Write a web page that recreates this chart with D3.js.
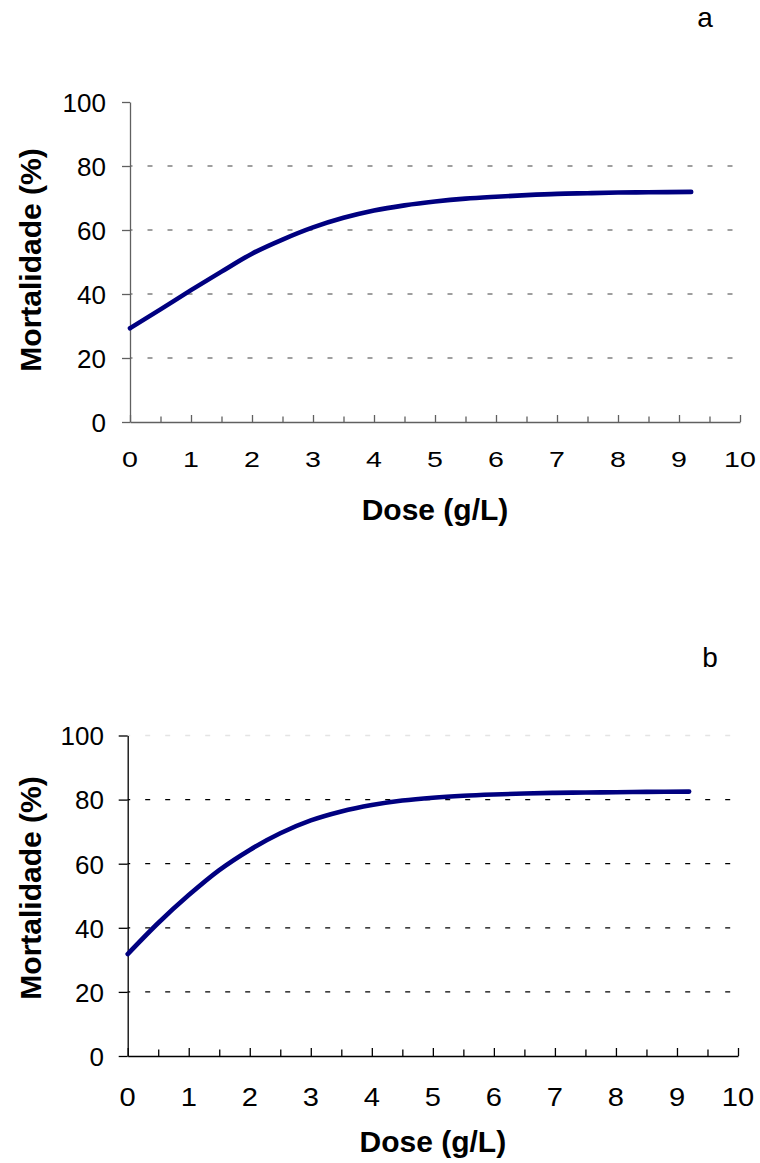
<!DOCTYPE html>
<html>
<head>
<meta charset="utf-8">
<script src="https://cdn.jsdelivr.net/npm/d3@7"></script>
<style>
  html, body { margin: 0; padding: 0; background: #fff; }
  svg { display: block; font-family: "Liberation Sans", Arial, sans-serif; }
</style>
</head>
<body>
<svg id="chart" width="760" height="1163"></svg>
<script>
// Dose levels (g/L) at which mortality was read
const doses = [0, 0.5, 1, 1.5, 2, 2.5, 3, 3.5, 4, 4.5, 5, 5.5, 6, 6.5, 7, 7.5, 8, 8.5, 9.2];

// Panel a: mortality (%)
const mortalityA = [29.3, 35.2, 41.2, 47.0, 52.6, 57.0, 60.8, 63.8, 66.1, 67.7, 68.9, 69.8, 70.4, 70.9, 71.3, 71.5, 71.7, 71.8, 71.9];

// Panel b: mortality (%)
const mortalityB = [31.8, 41.5, 50.2, 58.0, 64.3, 69.5, 73.5, 76.3, 78.3, 79.7, 80.6, 81.2, 81.6, 81.9, 82.1, 82.2, 82.3, 82.4, 82.5];

// Axis ticks
const xTicks = [0, 1, 2, 3, 4, 5, 6, 7, 8, 9, 10];
const xMinorTicks = [0.5, 1.5, 2.5, 3.5, 4.5, 5.5, 6.5, 7.5, 8.5, 9.5];
const yTicks = [0, 20, 40, 60, 80, 100];

const panelLetters = ["a", "b"];
const xTitle = "Dose (g/L)";
const yTitle = "Mortalidade (%)";

const svg = d3.select("#chart");

function drawPanel(opt) {
  const x = d3.scaleLinear().domain([0, 10]).range([opt.left, opt.right]);
  const y = d3.scaleLinear().domain([0, 100]).range([opt.bottom, opt.top]);
  const g = svg.append("g");

  // dotted horizontal gridlines
  g.append("g").selectAll("line")
    .data(yTicks.filter(t => t > 0 && (t < 100 || opt.topGrid)))
    .join("line")
    .attr("x1", x(0)).attr("x2", x(10))
    .attr("y1", d => y(d)).attr("y2", d => y(d))
    .attr("stroke", d => d === 100 ? "#e4e4e4" : opt.gridColor)
    .attr("stroke-width", 1.3)
    .attr("stroke-dasharray", "5 15")
    .attr("stroke-dashoffset", 2.5);

  // y axis
  const yAxis = g.append("g")
    .attr("transform", `translate(${x(0)},0)`)
    .call(d3.axisLeft(y).tickValues(yTicks).tickSize(opt.yTickLen).tickSizeOuter(0).tickFormat(d3.format("d")));
  yAxis.select(".domain").attr("stroke", opt.axisColor).attr("stroke-width", 1.3);
  yAxis.selectAll(".tick line").attr("stroke", opt.axisColor).attr("stroke-width", 1.3);
  yAxis.selectAll(".tick text")
    .attr("x", opt.yLabelRight - x(0))
    .attr("dy", "0.36em")
    .attr("font-size", opt.yLabelSize)
    .attr("font-family", "Liberation Sans, Arial, sans-serif")
    .attr("fill", "#000");

  // x axis: ticks point up into the plot
  const xAxis = g.append("g")
    .attr("transform", `translate(0,${y(0)})`)
    .call(d3.axisTop(x).tickValues(xTicks).tickSize(opt.xMajorLen).tickSizeOuter(0).tickFormat(""));
  xAxis.select(".domain").attr("stroke", opt.axisColor).attr("stroke-width", 1.3);
  xAxis.selectAll(".tick line").attr("stroke", opt.axisColor).attr("stroke-width", 1.3);

  g.append("g")
    .attr("transform", `translate(0,${y(0)})`)
    .call(d3.axisTop(x).tickValues(xMinorTicks).tickSize(opt.xMinorLen).tickFormat(""))
    .call(s => s.select(".domain").remove())
    .selectAll(".tick line").attr("stroke", opt.axisColor).attr("stroke-width", 1.3);

  // x tick labels
  g.append("g").selectAll("text")
    .data(xTicks)
    .join("text")
    .attr("transform", d => `translate(${x(d)},${opt.xLabelBase}) scale(${opt.xLabelStretch},1)`)
    .attr("text-anchor", "middle")
    .attr("font-size", opt.xLabelSize)
    .attr("fill", "#000")
    .text(d => d);

  // mortality curve
  const line = d3.line()
    .x((d, i) => x(doses[i]))
    .y(d => y(d))
    .curve(d3.curveMonotoneX);
  g.append("path")
    .datum(opt.values)
    .attr("d", line)
    .attr("fill", "none")
    .attr("stroke", "#000080")
    .attr("stroke-width", 4.6)
    .attr("stroke-linecap", "round")
    .attr("stroke-linejoin", "round");

  // axis titles
  g.append("text")
    .attr("x", (opt.left + opt.right) / 2)
    .attr("y", opt.xTitleBase)
    .attr("text-anchor", "middle")
    .attr("font-size", 30)
    .attr("font-weight", "bold")
    .text(xTitle);

  g.append("text")
    .attr("transform", `translate(${opt.yTitleX},${opt.yTitleY}) rotate(-90)`)
    .attr("text-anchor", "middle")
    .attr("font-size", 30)
    .attr("font-weight", "bold")
    .text(yTitle);

  // panel letter
  g.append("text")
    .attr("x", opt.letterX)
    .attr("y", opt.letterY)
    .attr("text-anchor", "middle")
    .attr("font-size", 28)
    .text(opt.letter);
}

drawPanel({
  values: mortalityA, letter: panelLetters[0],
  left: 130, right: 740, top: 102, bottom: 422,
  gridColor: "#808080", axisColor: "#606060", topGrid: false,
  yTickLen: 8, xMajorLen: 7, xMinorLen: 5.5,
  yLabelRight: 106, yLabelSize: 26,
  xLabelBase: 467, xLabelSize: 22, xLabelStretch: 1.3,
  xTitleBase: 520, yTitleX: 41, yTitleY: 260,
  letterX: 705, letterY: 27
});

drawPanel({
  values: mortalityB, letter: panelLetters[1],
  left: 127.7, right: 738, top: 735.5, bottom: 1056,
  gridColor: "#000", axisColor: "#000", topGrid: true,
  yTickLen: 9, xMajorLen: 8, xMinorLen: 6.5,
  yLabelRight: 104, yLabelSize: 26,
  xLabelBase: 1106, xLabelSize: 26, xLabelStretch: 1.12,
  xTitleBase: 1152, yTitleX: 41, yTitleY: 888,
  letterX: 710, letterY: 667
});
</script>
</body>
</html>
